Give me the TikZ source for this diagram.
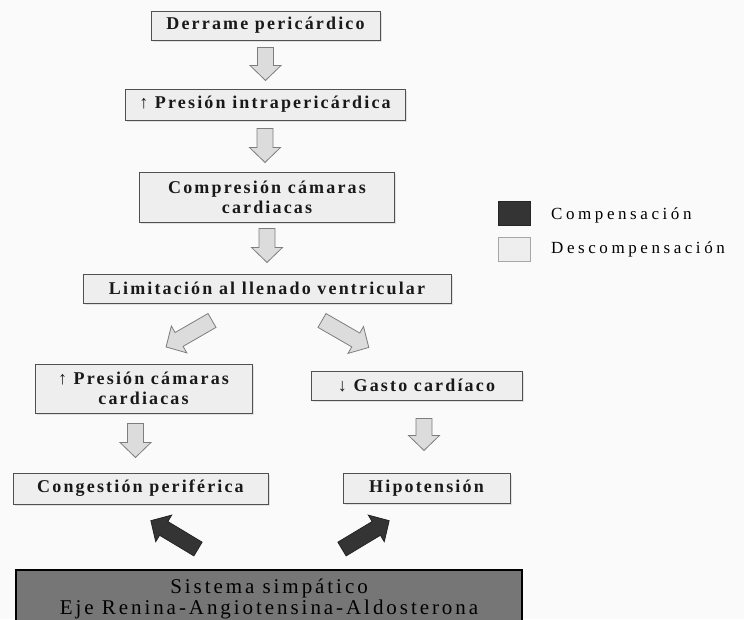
\documentclass[tikz,border=0pt]{standalone}
\usepackage{fontspec}
\setmainfont{Liberation Serif}
\newfontfamily\boxfont[LetterSpace=12]{Liberation Serif}
\newfontfamily\legfont[LetterSpace=21]{Liberation Serif}
\newfontfamily\simpfont[LetterSpace=14]{Liberation Serif}
\usetikzlibrary{calc,shadows}

\definecolor{bgcol}{RGB}{250,250,250}
\definecolor{boxfill}{RGB}{238,238,238}
\definecolor{boxline}{RGB}{80,80,80}
\definecolor{arrowfill}{RGB}{220,220,220}
\definecolor{arrowline}{RGB}{125,125,125}
\definecolor{darkfill}{RGB}{52,52,52}
\definecolor{simpfill}{RGB}{118,118,118}

\tikzset{
  stage/.style={draw=boxline, fill=boxfill, line width=0.9pt, align=center, inner sep=0pt,
    text=black!90, font=\boxfont\bfseries\fontsize{18}{20}\selectfont,
    drop shadow={shadow xshift=1.5pt, shadow yshift=-1.5pt, opacity=0.2}},
  simpbox/.style={draw=black, fill=simpfill, line width=1.6pt, align=center, inner sep=0pt,
    font=\simpfont\fontsize{21}{21}\selectfont},
  legbox/.style={line width=0.9pt, minimum width=32pt, minimum height=24pt, inner sep=0pt},
  legtext/.style={anchor=west, inner sep=0pt, font=\legfont\fontsize{17}{19}\selectfont},
  lightarrow/.style={draw=arrowline, fill=arrowfill, line width=0.8pt},
  darkarrow/.style={draw=darkfill!70!black, fill=darkfill, line width=0.8pt},
  pics/blockarr/.style 2 args={code={
    \draw[#2] (0pt,-8pt) -- (#1-15pt,-8pt) -- (#1-15pt,-15.5pt) -- (#1,0pt)
      -- (#1-15pt,15.5pt) -- (#1-15pt,8pt) -- (0pt,8pt) -- cycle;}}
}

\begin{document}
\begin{tikzpicture}[x=1pt, y=-1pt]
\clip (0,0) rectangle (744,619);
\fill[bgcol] (0,0) rectangle (744,619);

% cascada de descompensacion
\node[stage, minimum width=229pt, minimum height=29pt] (derrame) at (265.5,25.5) {Derrame pericárdico};
\node[stage, minimum width=280pt, minimum height=31pt] (intra) at (265,104.5) {↑ Presión intrapericárdica};
\node[stage, minimum width=255pt, minimum height=50pt] (compresion) at (267,197) {Compresión cámaras\\cardiacas};
\node[stage, minimum width=368pt, minimum height=29pt] (limitacion) at (267,288.5) {Limitación al llenado ventricular};
\node[stage, minimum width=217pt, minimum height=49pt] (prescam) at (143.5,388.5) {↑ Presión cámaras\\cardiacas};
\node[stage, minimum width=211pt, minimum height=29pt] (gasto) at (416.5,385.5) {↓ Gasto cardíaco};
\node[stage, minimum width=255pt, minimum height=31pt] (congestion) at (140.5,488.5) {Congestión periférica};
\node[stage, minimum width=167pt, minimum height=30pt] (hipo) at (426.5,488) {Hipotensión};
\node[simpbox, minimum width=506pt, minimum height=58pt, anchor=north] (simpatico) at (269,569)
  {Sistema simpático\\Eje Renina-Angiotensina-Aldosterona};

% flechas
\pic[rotate=-90] at ($(derrame.south)+(0,7)$) {blockarr={33pt}{lightarrow}};
\pic[rotate=-90] at ($(intra.south)+(0,8)$) {blockarr={34pt}{lightarrow}};
\pic[rotate=-90] at ($(compresion.south)+(0,6)$) {blockarr={34pt}{lightarrow}};
\pic[rotate=210] at ($(limitacion.south)+(-55,17)$) {blockarr={53pt}{lightarrow}};
\pic[rotate=-30] at ($(limitacion.south)+(55,17)$) {blockarr={54pt}{lightarrow}};
\pic[rotate=-90] at ($(prescam.south)+(-8,10)$) {blockarr={34pt}{lightarrow}};
\pic[rotate=-90] at ($(gasto.south)+(7.5,18)$) {blockarr={32pt}{lightarrow}};
\pic[rotate=149] at ($(simpatico.north)+(-71,-20)$) {blockarr={55pt}{darkarrow}};
\pic[rotate=31] at ($(simpatico.north)+(73,-20)$) {blockarr={55pt}{darkarrow}};

% leyenda
\node[legbox, draw=black!85, fill=darkfill] (compsq) at (514,213.5) {};
\node[legbox, draw=gray!70, fill=boxfill] (descsq) at (514,249.5) {};
\node[legtext] (comptxt) at (551,215) {Compensación};
\node[legtext] (desctxt) at (551,249) {Descompensación};
\end{tikzpicture}
\end{document}
